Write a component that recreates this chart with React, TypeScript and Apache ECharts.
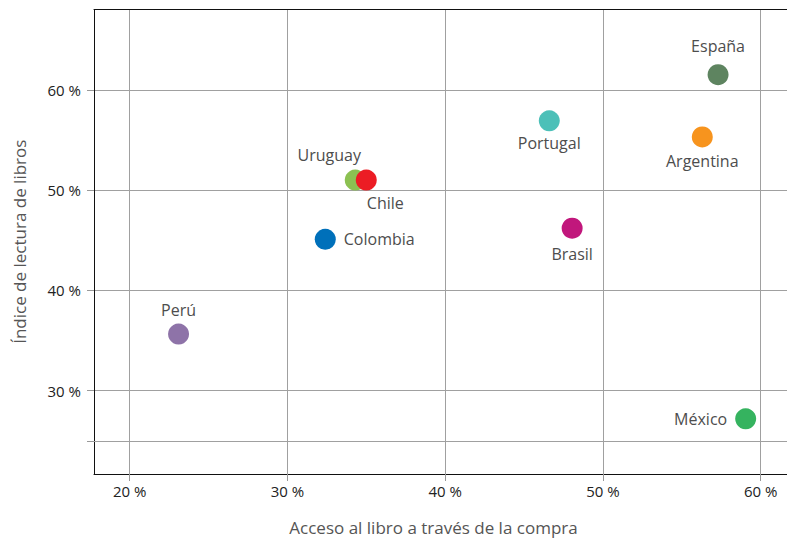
import React, { useEffect, useRef } from "react";
import * as echarts from "echarts";

const countries = ["España", "Portugal", "Argentina", "Uruguay", "Chile", "Colombia", "Brasil", "Perú", "México"];
const accesoCompra = [57.3, 46.6, 56.3, 34.3, 35.0, 32.4, 48.05, 23.1, 59.05];
const indiceLectura = [61.5, 56.9, 55.3, 51.0, 51.0, 45.1, 46.2, 35.65, 27.2];

const xTicks = [20, 30, 40, 50, 60];
const yTickLines = [25, 30, 40, 50, 60];
const yTickLabels = [30, 40, 50, 60];
const extraGridLines = [25];

const colorMap: Record<string, string> = {
  "España": "#5e8460",
  "Portugal": "#4cc0b8",
  "Argentina": "#f7941e",
  "Uruguay": "#8cc152",
  "Chile": "#ec1c24",
  "Colombia": "#0070ba",
  "Brasil": "#c1177c",
  "Perú": "#8e73a8",
  "México": "#35b35f",
};

const labelMap: Record<string, any> = {
  "España": { position: "top", distance: 10 },
  "Portugal": { position: "bottom", distance: 4 },
  "Argentina": { position: "bottom", distance: 6 },
  "Uruguay": { position: "top", distance: 7, offset: [-26, 0] },
  "Chile": { position: "bottom", distance: 4, offset: [19, 0] },
  "Colombia": { position: "right", distance: 8 },
  "Brasil": { position: "bottom", distance: 7 },
  "Perú": { position: "top", distance: 6 },
  "México": { position: "left", distance: 8 },
};

const FONT = "'Open Sans', 'Noto Sans', sans-serif";
const GRID_COLOR = "#a0a0a0";
const X_MIN = 17.74;
const X_MAX = 61.67;

export default function App() {
  const ref = useRef<HTMLDivElement>(null);
  useEffect(() => {
    if (!ref.current) return;
    const chart = echarts.init(ref.current, null, { renderer: "svg" });
    const data = countries.map((c, i) => ({
      name: c,
      value: [accesoCompra[i], indiceLectura[i]],
      itemStyle: { color: colorMap[c], opacity: 1 },
      label: {
        show: true,
        formatter: c,
        color: "#4d4d4d",
        fontSize: 16,
        fontFamily: FONT,
        ...labelMap[c],
      },
    }));
    chart.setOption({
      animation: false,
      grid: {
        show: false,
        left: 94,
        top: 9.5,
        right: 0,
        bottom: 64,
      },
      xAxis: [
        {
          type: "value",
          min: X_MIN,
          max: X_MAX,
          name: "Acceso al libro a través de la compra",
          nameLocation: "middle",
          nameGap: 45,
          nameTextStyle: { fontSize: 17, color: "#555", fontFamily: FONT, padding: [0, 14, 0, 0] },
          axisLine: { show: true, lineStyle: { color: "#111", width: 1 } },
          axisTick: { show: true, length: 7, lineStyle: { color: "#999" }, customValues: xTicks },
          axisLabel: {
            customValues: xTicks,
            formatter: (v: number) => `${v} %`,
            fontSize: 15,
            color: "#222",
            fontFamily: FONT,
            margin: 9,
          },
          splitLine: { show: true, lineStyle: { color: GRID_COLOR, width: 1 } },
        },
        {
          type: "value",
          position: "top",
          min: X_MIN,
          max: X_MAX,
          axisLine: { show: true, lineStyle: { color: "#111", width: 1 } },
          axisTick: { show: false },
          axisLabel: { show: false },
          splitLine: { show: false },
        },
      ],
      yAxis: {
        type: "value",
        min: 21.7,
        max: 68,
        name: "Índice de lectura de libros",
        nameLocation: "middle",
        nameGap: 66,
        nameTextStyle: { fontSize: 17, color: "#555", fontFamily: FONT },
        axisLine: { show: true, lineStyle: { color: "#111", width: 1 } },
        axisTick: { show: true, length: 7, lineStyle: { color: "#999" }, customValues: yTickLines },
        axisLabel: {
          customValues: yTickLabels,
          formatter: (v: number) => `${v} %`,
          fontSize: 15,
          color: "#222",
          fontFamily: FONT,
          margin: 13,
        },
        splitLine: { show: true, lineStyle: { color: GRID_COLOR, width: 1 } },
      },
      series: [
        {
          type: "scatter",
          symbolSize: 21,
          data,
          z: 3,
          markLine: {
            silent: true,
            symbol: ["none", "none"],
            label: { show: false },
            lineStyle: { color: GRID_COLOR, width: 1, type: "solid" },
            data: extraGridLines.map((v) => ({ yAxis: v })),
            z: 1,
          },
        },
      ],
    });
    return () => chart.dispose();
  }, []);
  return <div ref={ref} style={{ position: "absolute", left: 0, top: 0, width: 787, height: 541 }} />;
}
